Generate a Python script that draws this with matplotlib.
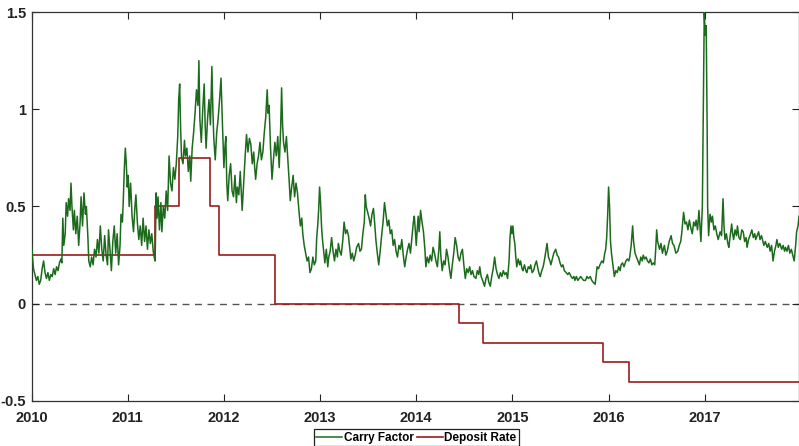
import matplotlib.pyplot as plt
from matplotlib.ticker import FormatStrFormatter

plt.rcParams['font.family'] = ['Liberation Sans', 'DejaVu Sans']

# carry factor as (decimal year, value)
carry_2010 = [(2010.00, 0.30), (2010.01, 0.24), (2010.02, 0.18), (2010.035, 0.15), (2010.05, 0.12), (2010.065, 0.14),
              (2010.08, 0.10), (2010.095, 0.12), (2010.11, 0.18), (2010.125, 0.22), (2010.14, 0.16), (2010.155, 0.13),
              (2010.17, 0.16), (2010.185, 0.12), (2010.20, 0.15), (2010.215, 0.14), (2010.23, 0.18), (2010.245, 0.15),
              (2010.26, 0.19), (2010.275, 0.17), (2010.29, 0.21), (2010.305, 0.23), (2010.315, 0.21), (2010.325, 0.44),
              (2010.335, 0.30), (2010.35, 0.36), (2010.36, 0.52), (2010.375, 0.45), (2010.385, 0.54), (2010.40, 0.48),
              (2010.41, 0.62), (2010.42, 0.50), (2010.435, 0.38), (2010.445, 0.48), (2010.46, 0.36), (2010.475, 0.45),
              (2010.49, 0.30), (2010.505, 0.42), (2010.515, 0.55), (2010.53, 0.40), (2010.545, 0.57), (2010.56, 0.46),
              (2010.57, 0.50), (2010.585, 0.35), (2010.595, 0.22), (2010.61, 0.19), (2010.625, 0.24), (2010.64, 0.20),
              (2010.655, 0.28), (2010.67, 0.24), (2010.685, 0.33), (2010.70, 0.26), (2010.715, 0.40), (2010.73, 0.28),
              (2010.745, 0.22), (2010.76, 0.35), (2010.775, 0.25), (2010.79, 0.20), (2010.80, 0.38), (2010.815, 0.28),
              (2010.83, 0.17), (2010.845, 0.32), (2010.86, 0.40), (2010.875, 0.26), (2010.89, 0.36), (2010.905, 0.20),
              (2010.92, 0.30), (2010.93, 0.46), (2010.945, 0.42), (2010.955, 0.55), (2010.965, 0.70), (2010.975, 0.80),
              (2010.985, 0.72), (2010.995, 0.60)]
carry_2011 = [(2011.005, 0.66), (2011.015, 0.50), (2011.03, 0.62), (2011.045, 0.45), (2011.06, 0.37), (2011.075, 0.50),
              (2011.085, 0.56), (2011.10, 0.42), (2011.115, 0.33), (2011.13, 0.40), (2011.145, 0.30), (2011.16, 0.44),
              (2011.175, 0.32), (2011.19, 0.40), (2011.205, 0.28), (2011.22, 0.38), (2011.235, 0.31), (2011.25, 0.36),
              (2011.265, 0.27), (2011.275, 0.24), (2011.285, 0.22), (2011.295, 0.57), (2011.305, 0.44), (2011.315, 0.55),
              (2011.33, 0.38), (2011.345, 0.52), (2011.355, 0.37), (2011.37, 0.50), (2011.385, 0.44), (2011.40, 0.58),
              (2011.415, 0.48), (2011.43, 0.76), (2011.445, 0.62), (2011.46, 0.58), (2011.475, 0.70), (2011.49, 0.64),
              (2011.505, 0.72), (2011.52, 0.86), (2011.53, 1.05), (2011.54, 1.13), (2011.55, 0.90), (2011.56, 0.75),
              (2011.575, 0.72), (2011.59, 0.84), (2011.60, 0.76), (2011.615, 0.80), (2011.63, 0.68), (2011.645, 0.76),
              (2011.655, 0.63), (2011.67, 0.80), (2011.685, 0.88), (2011.70, 0.98), (2011.715, 1.10), (2011.73, 1.02),
              (2011.74, 1.25), (2011.75, 0.95), (2011.765, 0.83), (2011.78, 1.00), (2011.795, 1.13), (2011.805, 0.92),
              (2011.815, 0.80), (2011.83, 0.95), (2011.845, 1.05), (2011.86, 0.92), (2011.875, 1.22), (2011.885, 1.00),
              (2011.895, 0.85), (2011.91, 0.74), (2011.925, 0.88), (2011.94, 0.95), (2011.955, 1.05), (2011.97, 1.16),
              (2011.985, 0.92)]
carry_2012 = [(2012.00, 0.70), (2012.01, 0.80), (2012.02, 0.86), (2012.03, 0.62), (2012.04, 0.53), (2012.055, 0.66),
              (2012.07, 0.72), (2012.085, 0.58), (2012.10, 0.55), (2012.115, 0.66), (2012.13, 0.52), (2012.14, 0.60),
              (2012.155, 0.56), (2012.17, 0.68), (2012.18, 0.58), (2012.19, 0.48), (2012.205, 0.62), (2012.22, 0.75),
              (2012.235, 0.87), (2012.25, 0.78), (2012.265, 0.85), (2012.28, 0.82), (2012.295, 0.72), (2012.31, 0.78),
              (2012.32, 0.70), (2012.33, 0.64), (2012.345, 0.72), (2012.36, 0.76), (2012.375, 0.83), (2012.39, 0.74),
              (2012.405, 0.78), (2012.42, 0.88), (2012.435, 0.96), (2012.45, 1.10), (2012.46, 0.98), (2012.47, 1.02),
              (2012.485, 0.80), (2012.50, 0.64), (2012.515, 0.74), (2012.53, 0.83), (2012.545, 0.76), (2012.56, 0.86),
              (2012.575, 0.70), (2012.59, 0.90), (2012.60, 1.11), (2012.61, 0.92), (2012.62, 0.83), (2012.635, 0.78),
              (2012.65, 0.86), (2012.665, 0.74), (2012.68, 0.62), (2012.69, 0.53), (2012.705, 0.60), (2012.72, 0.66),
              (2012.735, 0.55), (2012.75, 0.62), (2012.765, 0.57), (2012.78, 0.48), (2012.795, 0.40), (2012.81, 0.44),
              (2012.82, 0.36), (2012.835, 0.30), (2012.85, 0.26), (2012.865, 0.22), (2012.88, 0.24), (2012.895, 0.16),
              (2012.91, 0.18), (2012.925, 0.24), (2012.94, 0.20), (2012.955, 0.22), (2012.965, 0.34), (2012.975, 0.40),
              (2012.985, 0.48), (2012.995, 0.60)]
carry_2013 = [(2013.005, 0.52), (2013.015, 0.40), (2013.025, 0.33), (2013.04, 0.26), (2013.05, 0.21), (2013.065, 0.28),
              (2013.08, 0.19), (2013.09, 0.24), (2013.105, 0.27), (2013.12, 0.34), (2013.135, 0.27), (2013.15, 0.22),
              (2013.165, 0.28), (2013.18, 0.24), (2013.19, 0.31), (2013.205, 0.27), (2013.22, 0.25), (2013.235, 0.32),
              (2013.25, 0.42), (2013.265, 0.36), (2013.28, 0.38), (2013.295, 0.35), (2013.31, 0.28), (2013.32, 0.23),
              (2013.335, 0.26), (2013.35, 0.22), (2013.365, 0.25), (2013.38, 0.29), (2013.40, 0.31), (2013.415, 0.27),
              (2013.43, 0.28), (2013.445, 0.36), (2013.46, 0.42), (2013.47, 0.56), (2013.48, 0.50), (2013.495, 0.47),
              (2013.51, 0.44), (2013.525, 0.40), (2013.54, 0.46), (2013.555, 0.49), (2013.57, 0.40), (2013.58, 0.33),
              (2013.595, 0.26), (2013.61, 0.20), (2013.625, 0.27), (2013.64, 0.35), (2013.655, 0.42), (2013.67, 0.52),
              (2013.685, 0.46), (2013.70, 0.40), (2013.715, 0.43), (2013.73, 0.36), (2013.745, 0.38), (2013.76, 0.30),
              (2013.775, 0.33), (2013.79, 0.27), (2013.805, 0.24), (2013.82, 0.30), (2013.835, 0.28), (2013.85, 0.33),
              (2013.865, 0.25), (2013.88, 0.19), (2013.895, 0.24), (2013.91, 0.28), (2013.925, 0.31), (2013.94, 0.26),
              (2013.955, 0.34), (2013.97, 0.42), (2013.98, 0.45), (2013.99, 0.38)]
carry_2014 = [(2014.00, 0.30), (2014.01, 0.38), (2014.02, 0.45), (2014.03, 0.37), (2014.045, 0.48), (2014.06, 0.42),
              (2014.075, 0.37), (2014.09, 0.28), (2014.10, 0.19), (2014.115, 0.24), (2014.13, 0.21), (2014.145, 0.25),
              (2014.16, 0.22), (2014.175, 0.29), (2014.19, 0.26), (2014.205, 0.22), (2014.22, 0.19), (2014.235, 0.28),
              (2014.245, 0.37), (2014.255, 0.25), (2014.27, 0.17), (2014.285, 0.22), (2014.30, 0.20), (2014.315, 0.28),
              (2014.33, 0.24), (2014.345, 0.18), (2014.36, 0.13), (2014.375, 0.20), (2014.39, 0.26), (2014.405, 0.34),
              (2014.42, 0.30), (2014.435, 0.24), (2014.45, 0.22), (2014.465, 0.26), (2014.48, 0.28), (2014.495, 0.20),
              (2014.51, 0.13), (2014.525, 0.18), (2014.54, 0.16), (2014.555, 0.19), (2014.57, 0.15), (2014.585, 0.17),
              (2014.60, 0.14), (2014.62, 0.13), (2014.635, 0.17), (2014.65, 0.15), (2014.66, 0.19), (2014.675, 0.14),
              (2014.69, 0.12), (2014.71, 0.09), (2014.725, 0.13), (2014.74, 0.15), (2014.755, 0.11), (2014.77, 0.09),
              (2014.785, 0.14), (2014.80, 0.18), (2014.815, 0.24), (2014.83, 0.18), (2014.845, 0.15), (2014.86, 0.13),
              (2014.875, 0.16), (2014.89, 0.14), (2014.905, 0.17), (2014.92, 0.15), (2014.935, 0.16), (2014.95, 0.13),
              (2014.965, 0.22), (2014.975, 0.34), (2014.985, 0.40), (2014.995, 0.36)]
carry_2015 = [(2015.005, 0.40), (2015.015, 0.34), (2015.025, 0.31), (2015.035, 0.24), (2015.045, 0.19), (2015.06, 0.23),
              (2015.075, 0.20), (2015.085, 0.22), (2015.10, 0.18), (2015.11, 0.17), (2015.125, 0.20), (2015.14, 0.17),
              (2015.15, 0.16), (2015.165, 0.19), (2015.18, 0.18), (2015.19, 0.20), (2015.205, 0.16), (2015.22, 0.17),
              (2015.235, 0.20), (2015.25, 0.22), (2015.265, 0.18), (2015.28, 0.15), (2015.29, 0.14), (2015.305, 0.17),
              (2015.32, 0.19), (2015.335, 0.23), (2015.35, 0.28), (2015.36, 0.31), (2015.375, 0.24), (2015.39, 0.22),
              (2015.40, 0.20), (2015.415, 0.23), (2015.43, 0.26), (2015.45, 0.28), (2015.465, 0.25), (2015.48, 0.24),
              (2015.495, 0.21), (2015.51, 0.19), (2015.525, 0.20), (2015.54, 0.17), (2015.56, 0.16), (2015.575, 0.15),
              (2015.59, 0.16), (2015.61, 0.14), (2015.625, 0.13), (2015.64, 0.14), (2015.65, 0.12), (2015.665, 0.14),
              (2015.68, 0.12), (2015.695, 0.13), (2015.71, 0.14), (2015.725, 0.13), (2015.74, 0.12), (2015.76, 0.12),
              (2015.775, 0.14), (2015.79, 0.13), (2015.81, 0.14), (2015.825, 0.12), (2015.84, 0.11), (2015.86, 0.10),
              (2015.87, 0.14), (2015.88, 0.19), (2015.895, 0.18), (2015.91, 0.20), (2015.93, 0.22), (2015.945, 0.21),
              (2015.96, 0.26), (2015.97, 0.28), (2015.98, 0.34), (2015.99, 0.45)]
carry_2016 = [(2016.00, 0.60), (2016.01, 0.50), (2016.02, 0.32), (2016.03, 0.26), (2016.045, 0.20), (2016.06, 0.14),
              (2016.075, 0.17), (2016.09, 0.16), (2016.105, 0.19), (2016.12, 0.17), (2016.13, 0.20), (2016.145, 0.21),
              (2016.16, 0.19), (2016.18, 0.22), (2016.195, 0.23), (2016.21, 0.22), (2016.22, 0.24), (2016.235, 0.30),
              (2016.25, 0.40), (2016.26, 0.32), (2016.275, 0.26), (2016.29, 0.24), (2016.305, 0.22), (2016.32, 0.20),
              (2016.335, 0.24), (2016.35, 0.22), (2016.36, 0.25), (2016.375, 0.23), (2016.39, 0.24), (2016.405, 0.22),
              (2016.42, 0.21), (2016.435, 0.23), (2016.45, 0.20), (2016.465, 0.21), (2016.48, 0.20), (2016.49, 0.28),
              (2016.50, 0.38), (2016.51, 0.32), (2016.53, 0.28), (2016.545, 0.31), (2016.56, 0.26), (2016.58, 0.30),
              (2016.595, 0.25), (2016.61, 0.27), (2016.63, 0.32), (2016.65, 0.35), (2016.665, 0.31), (2016.68, 0.30),
              (2016.70, 0.26), (2016.72, 0.27), (2016.735, 0.30), (2016.75, 0.32), (2016.76, 0.36), (2016.78, 0.47),
              (2016.795, 0.41), (2016.81, 0.42), (2016.825, 0.38), (2016.84, 0.43), (2016.855, 0.39), (2016.87, 0.36),
              (2016.885, 0.42), (2016.90, 0.40), (2016.91, 0.43), (2016.925, 0.38), (2016.94, 0.48), (2016.95, 0.40),
              (2016.96, 0.32), (2016.975, 0.50), (2016.985, 1.00), (2016.995, 1.50)]
carry_2017 = [(2017.005, 1.38), (2017.015, 1.43), (2017.025, 0.90), (2017.03, 0.50), (2017.04, 0.35), (2017.055, 0.46),
              (2017.07, 0.42), (2017.08, 0.45), (2017.095, 0.38), (2017.11, 0.40), (2017.125, 0.36), (2017.14, 0.33),
              (2017.16, 0.37), (2017.175, 0.35), (2017.19, 0.54), (2017.20, 0.40), (2017.21, 0.33), (2017.225, 0.36),
              (2017.24, 0.31), (2017.25, 0.29), (2017.265, 0.35), (2017.28, 0.41), (2017.29, 0.36), (2017.30, 0.33),
              (2017.315, 0.38), (2017.33, 0.35), (2017.34, 0.40), (2017.355, 0.34), (2017.37, 0.33), (2017.385, 0.38),
              (2017.40, 0.37), (2017.415, 0.32), (2017.43, 0.34), (2017.44, 0.29), (2017.455, 0.33), (2017.47, 0.35),
              (2017.49, 0.38), (2017.505, 0.34), (2017.52, 0.36), (2017.53, 0.33), (2017.545, 0.35), (2017.56, 0.37),
              (2017.575, 0.33), (2017.59, 0.35), (2017.60, 0.33), (2017.615, 0.30), (2017.63, 0.32), (2017.65, 0.29),
              (2017.665, 0.31), (2017.68, 0.27), (2017.695, 0.30), (2017.71, 0.22), (2017.725, 0.27), (2017.74, 0.30),
              (2017.75, 0.33), (2017.765, 0.29), (2017.78, 0.31), (2017.80, 0.28), (2017.815, 0.30), (2017.83, 0.27),
              (2017.84, 0.29), (2017.855, 0.27), (2017.87, 0.30), (2017.885, 0.26), (2017.90, 0.28), (2017.915, 0.25),
              (2017.93, 0.22), (2017.945, 0.30), (2017.955, 0.37), (2017.97, 0.40), (2017.98, 0.45)]

# ECB deposit facility rate (%), change dates as decimal years
deposit_dates = [2010.0, 2011.28, 2011.53, 2011.86, 2011.95, 2012.53, 2014.44, 2014.69, 2015.94, 2016.21, 2017.98]
deposit_rates = [0.25, 0.50, 0.75, 0.50, 0.25, 0.00, -0.10, -0.20, -0.30, -0.40, -0.40]

year_ticks = [2010, 2011, 2012, 2013, 2014, 2015, 2016, 2017]
y_ticks = [-0.5, 0, 0.5, 1, 1.5]

carry = carry_2010 + carry_2011 + carry_2012 + carry_2013 + carry_2014 + carry_2015 + carry_2016 + carry_2017
carry_t = [p[0] for p in carry]
carry_v = [p[1] for p in carry]

fig = plt.figure(figsize=(7.99, 4.46), dpi=100)
ax = fig.add_axes([0.0395, 0.101, 0.9605, 0.872])

ax.axhline(0, color='#555555', linestyle=(0, (5, 4)), linewidth=1.0, zorder=1)
ax.plot(carry_t, carry_v, color='#1c6b1c', linewidth=1.1, label='Carry Factor', zorder=3)
ax.step(deposit_dates, deposit_rates, where='post', color='#9b1c1c', linewidth=1.2,
        label='Deposit Rate', zorder=2)

ax.set_xlim(2010, 2017.98)
ax.set_ylim(-0.5, 1.5)
ax.set_xticks(year_ticks)
ax.set_yticks(y_ticks)
ax.yaxis.set_major_formatter(FormatStrFormatter('%g'))
ax.tick_params(direction='in', top=True, right=True, length=5, width=0.8,
               labelsize=10.5, colors='#222222')
ax.tick_params(axis='x', pad=7)
ax.tick_params(axis='y', pad=4)
for lab in ax.get_xticklabels() + ax.get_yticklabels():
    lab.set_fontweight('bold')
for sp in ax.spines.values():
    sp.set_color('#333333')
    sp.set_linewidth(0.9)

leg = fig.legend(loc='upper center', bbox_to_anchor=(0.521, 0.037), ncol=2,
                 frameon=True, fancybox=False, edgecolor='#222222', framealpha=1,
                 handlelength=2.2, handletextpad=0.1, columnspacing=0.3,
                 borderpad=0.2, borderaxespad=0,
                 prop={'weight': 'bold', 'size': 8.5})
leg.get_frame().set_linewidth(0.9)

fig.savefig('out.png', dpi=100)
